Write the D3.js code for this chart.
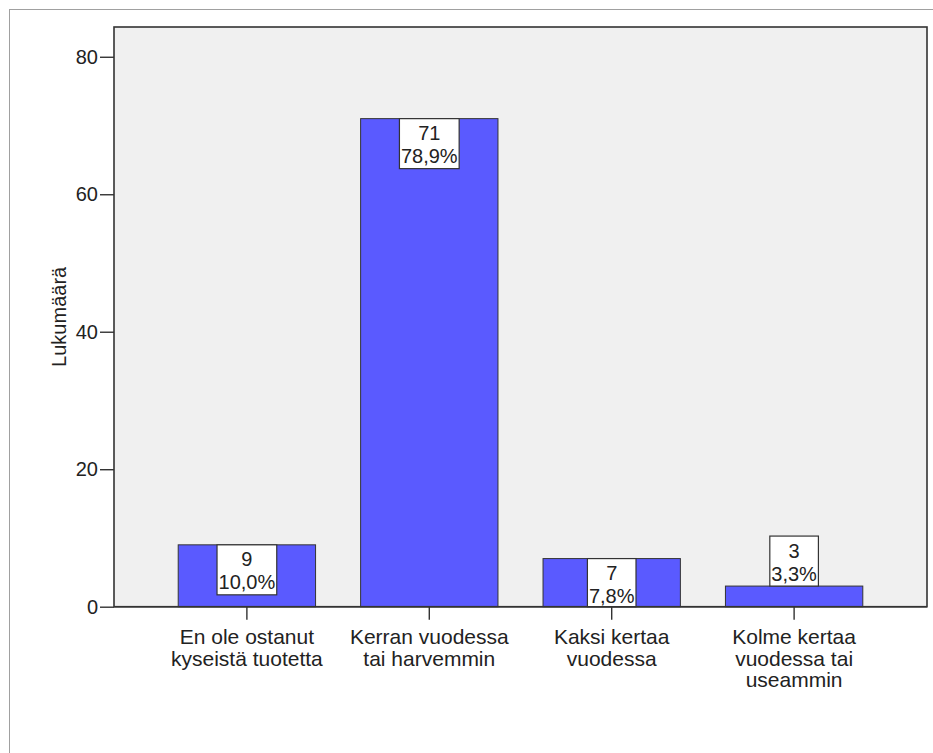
<!DOCTYPE html>
<html>
<head>
<meta charset="utf-8">
<script src="https://cdn.jsdelivr.net/npm/d3@7"></script>
<style>
  html, body { margin: 0; padding: 0; background: #fff; }
  svg text { font-family: "Liberation Sans", Arial, sans-serif; fill: #222; }
</style>
</head>
<body>
<svg id="chart" width="933" height="753"></svg>
<script>
// Purchase frequency counts
const categories = [
  "En ole ostanut kyseistä tuotetta",
  "Kerran vuodessa tai harvemmin",
  "Kaksi kertaa vuodessa",
  "Kolme kertaa vuodessa tai useammin"
];
const categoryLines = [
  ["En ole ostanut", "kyseistä tuotetta"],
  ["Kerran vuodessa", "tai harvemmin"],
  ["Kaksi kertaa", "vuodessa"],
  ["Kolme kertaa", "vuodessa tai", "useammin"]
];
const counts = [9, 71, 7, 3];
const yTicks = [0, 20, 40, 60, 80];
const yTitle = "Lukumäärä";

const total = d3.sum(counts);
const pctLabel = v => (v / total * 100).toFixed(1).replace(".", ",") + "%";

const svg = d3.select("#chart");
const plot = { left: 114, right: 927, top: 27, bottom: 606.7 };
const fontSize = 20;

// outer frame
svg.append("rect")
  .attr("x", 9.5).attr("y", 9.5)
  .attr("width", 1000).attr("height", 1000)
  .attr("fill", "none").attr("stroke", "#a0a0a0").attr("stroke-width", 1);

const x = d3.scaleBand()
  .domain(categories)
  .range([plot.left, plot.right])
  .paddingInner(0.247)
  .paddingOuter(0.352);

const y = d3.scaleLinear()
  .domain([0, 84.33])
  .range([plot.bottom, plot.top]);

// plot background
svg.append("rect")
  .attr("x", plot.left).attr("y", plot.top)
  .attr("width", plot.right - plot.left).attr("height", plot.bottom - plot.top)
  .attr("fill", "#f0f0f0");

// bars
svg.append("g").selectAll("rect")
  .data(categories)
  .join("rect")
  .attr("x", d => x(d))
  .attr("y", (d, i) => y(counts[i]))
  .attr("width", x.bandwidth())
  .attr("height", (d, i) => y(0) - y(counts[i]))
  .attr("fill", "#5a5aff")
  .attr("stroke", "#333")
  .attr("stroke-width", 1);

// plot frame
svg.append("rect")
  .attr("x", plot.left).attr("y", plot.top)
  .attr("width", plot.right - plot.left).attr("height", plot.bottom - plot.top)
  .attr("fill", "none").attr("stroke", "#333").attr("stroke-width", 1.6);

// y axis
const yAxis = d3.axisLeft(y).tickValues(yTicks).tickSize(14).tickPadding(2).tickFormat(d3.format("d"));
const gy = svg.append("g").attr("transform", `translate(${plot.left},0)`).call(yAxis);
gy.select(".domain").remove();
gy.selectAll(".tick line").attr("stroke", "#333").attr("stroke-width", 1.4);
gy.selectAll(".tick text").style("font-size", fontSize + "px").attr("fill", "#222");

// x axis
const xAxis = d3.axisBottom(x).tickSize(13).tickFormat("");
const gx = svg.append("g").attr("transform", `translate(0,${plot.bottom})`).call(xAxis);
gx.select(".domain").remove();
gx.selectAll(".tick line").attr("stroke", "#333").attr("stroke-width", 1.4);

// category labels
const catG = svg.append("g");
categories.forEach((c, i) => {
  const t = catG.append("text")
    .attr("text-anchor", "middle")
    .style("font-size", "21px")
    .attr("x", x(c) + x.bandwidth() / 2)
    .attr("y", 644);
  categoryLines[i].forEach((line, k) => {
    t.append("tspan")
      .attr("x", x(c) + x.bandwidth() / 2)
      .attr("y", 644 + k * 21.5)
      .text(line);
  });
});

// y title
svg.append("text")
  .attr("transform", `translate(66,${(plot.top + plot.bottom) / 2}) rotate(-90)`)
  .attr("text-anchor", "middle")
  .style("font-size", fontSize + "px")
  .text(yTitle);

// value labels
const boxH = 50;
const lblG = svg.append("g");
categories.forEach((c, i) => {
  const cx = x(c) + x.bandwidth() / 2;
  const top = y(counts[i]);
  const barH = y(0) - top;
  let boxTop, h;
  if (barH >= 45) { boxTop = top; h = Math.min(boxH, barH); }
  else { boxTop = top - boxH; h = boxH; }
  const g = lblG.append("g");
  const rect = g.append("rect");
  const t1 = g.append("text").attr("x", cx).attr("y", boxTop + 14.5)
    .attr("text-anchor", "middle").attr("dominant-baseline", "central")
    .style("font-size", fontSize + "px").text(counts[i]);
  const t2 = g.append("text").attr("x", cx).attr("y", boxTop + 37.5)
    .attr("text-anchor", "middle").attr("dominant-baseline", "central")
    .style("font-size", fontSize + "px").text(pctLabel(counts[i]));
  const w = Math.max(t1.node().getComputedTextLength(), t2.node().getComputedTextLength()) + 3;
  rect.attr("x", cx - w / 2).attr("y", boxTop).attr("width", w).attr("height", h)
    .attr("fill", "#fff").attr("stroke", "#333").attr("stroke-width", 1.2);
});

// baseline on top
svg.append("line")
  .attr("x1", plot.left).attr("x2", plot.right)
  .attr("y1", plot.bottom).attr("y2", plot.bottom)
  .attr("stroke", "#333").attr("stroke-width", 1.6);
</script>
</body>
</html>
